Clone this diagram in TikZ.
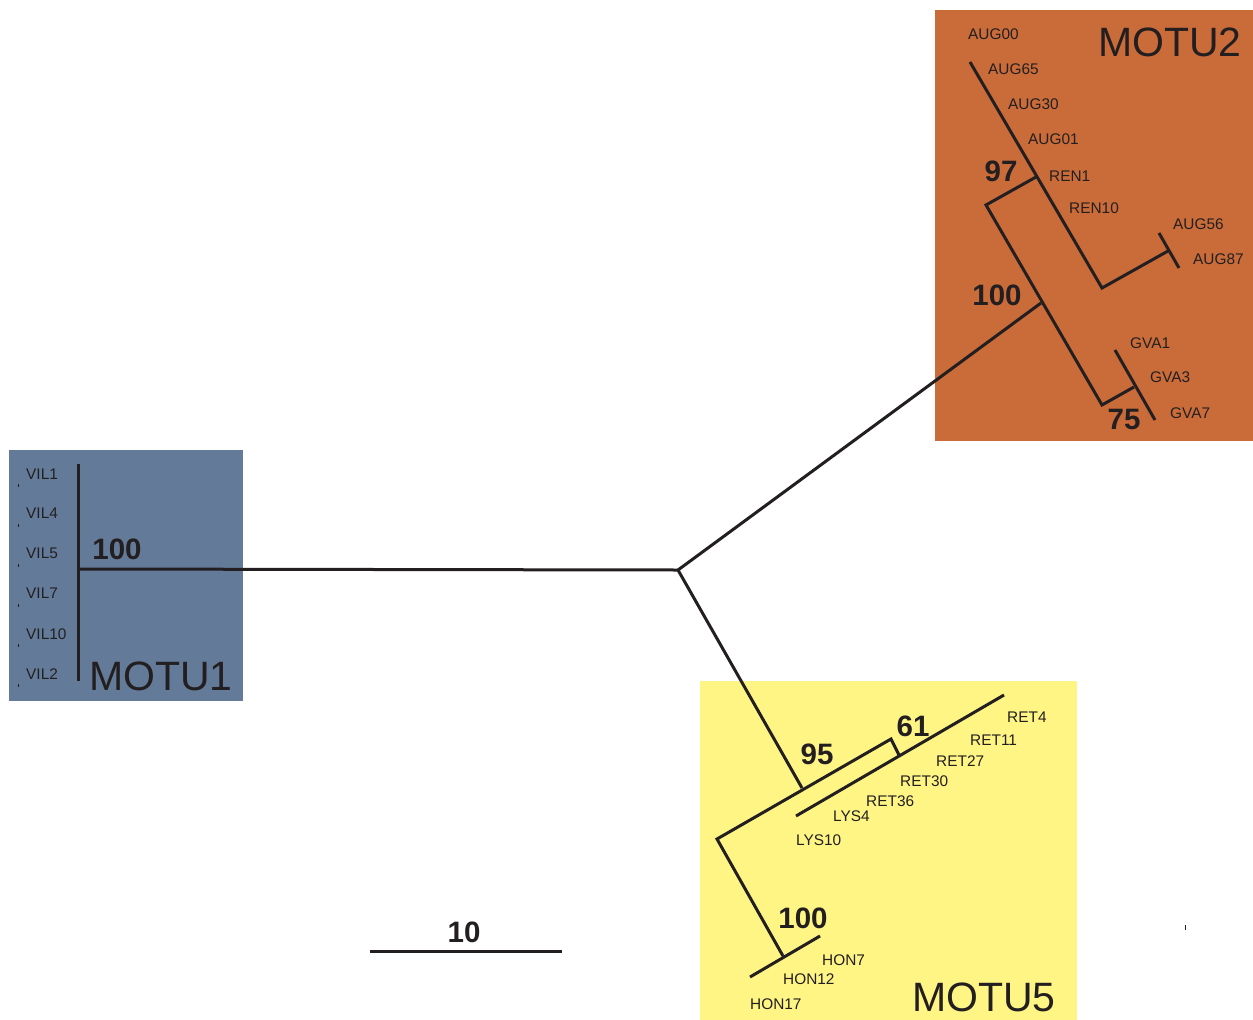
\documentclass[tikz,border=0pt]{standalone}
\usepackage{fontspec}
\setmainfont{Liberation Sans}
\definecolor{motuorange}{RGB}{201,108,57}
\definecolor{motublue}{RGB}{99,123,153}
\definecolor{motuyellow}{RGB}{255,245,133}
\definecolor{ink}{RGB}{35,31,32}
\tikzset{
  branch/.style={draw=ink, line width=3pt, line cap=butt, line join=miter},
  leaf/.style={anchor=west, inner sep=0pt, text=ink, font=\fontsize{15.4}{15.4}\selectfont},
  boot/.style={inner sep=0pt, text=ink, font=\fontsize{29.5}{29.5}\selectfont\bfseries},
  motu/.style={inner sep=0pt, text=ink, font=\fontsize{41}{41}\selectfont},
  tick/.style={draw=ink, line width=1pt}
}
\begin{document}
\begin{tikzpicture}[x=1pt,y=-1pt]
\useasboundingbox (0,0) rectangle (1253,1020);
\fill[white] (0,0) rectangle (1253,1020);
% cluster boxes
\fill[motuorange] (935,10) rectangle (1253,441);
\fill[motublue] (9,450) rectangle (243,701);
\fill[motuyellow] (700,681) rectangle (1077,1020);

% tree vertices
\coordinate (C) at (678,570);
% MOTU1
\coordinate (m1) at (78,569);
\coordinate (m1t) at (78,464);
\coordinate (m1b) at (78,681);
% MOTU2
\coordinate (m2) at (1041,303);
\coordinate (a0) at (970,62);
\coordinate (n97) at (1036,177);
\coordinate (a1) at (1102,288);
\coordinate (a2) at (1168,251);
\coordinate (a3t) at (1159,233);
\coordinate (a3b) at (1179,268);
\coordinate (g0) at (986,205);
\coordinate (g1) at (1102,405);
\coordinate (g2) at (1134,387);
\coordinate (g3t) at (1115,350);
\coordinate (g3b) at (1155,420);
% MOTU5
\coordinate (n95) at (802,788);
\coordinate (r0) at (717,839);
\coordinate (r1) at (891,739);
\coordinate (r2) at (899,755);
\coordinate (r3s) at (796,816);
\coordinate (r3e) at (1004,695);
\coordinate (h1) at (783,956);
\coordinate (h2s) at (750,977);
\coordinate (h2e) at (820,936);
% scale bar
\coordinate (s1) at (370,951);
\coordinate (s2) at (562,951);

% branches
\draw[branch] (m1t) -- (m1b);
\draw[branch] (m1) -- (C);
\draw[branch] (C) -- (m2);
\draw[branch] (a0) -- (a1) -- (a2);
\draw[branch] (a3t) -- (a3b);
\draw[branch] (n97) -- (g0) -- (g1) -- (g2);
\draw[branch] (g3t) -- (g3b);
\draw[branch] (C) -- (n95);
\draw[branch] (h1) -- (r0) -- (r1) -- (r2);
\draw[branch] (r3s) -- (r3e);
\draw[branch] (h2s) -- (h2e);
\draw[branch] (s1) -- (s2);

% tiny leaf ticks
\foreach \yy [count=\i] in {485,525,565,605,645,685}{
  \coordinate (vt\i) at (18,\yy);
  \draw[tick] ([yshift=-1.5pt]vt\i) -- ([yshift=1.5pt]vt\i);
}
\coordinate (lone) at (1185,927);
\draw[tick] ([yshift=-2.5pt]lone) -- ([yshift=2.5pt]lone);

% MOTU2 labels
\node[leaf] (lAUG00) at (968,34) {AUG00};
\node[leaf] (lAUG65) at (988,69) {AUG65};
\node[leaf] (lAUG30) at (1008,104) {AUG30};
\node[leaf] (lAUG01) at (1028,139) {AUG01};
\node[leaf] (lREN1) at (1049,176) {REN1};
\node[leaf] (lREN10) at (1069,208) {REN10};
\node[leaf] (lAUG56) at (1173,224) {AUG56};
\node[leaf] (lAUG87) at (1193,259) {AUG87};
\node[leaf] (lGVA1) at (1130,343) {GVA1};
\node[leaf] (lGVA3) at (1150,377) {GVA3};
\node[leaf] (lGVA7) at (1170,413) {GVA7};
\node[boot] (b97) at (1001,171) {97};
\node[boot] (b100a) at (997,295) {100};
\node[boot] (b75) at (1124,419) {75};
\node[motu] (tMOTU2) at (1170,42) {MOTU2};

% MOTU1 labels
\node[leaf] (lVIL1) at (26,474) {VIL1};
\node[leaf] (lVIL4) at (26,513) {VIL4};
\node[leaf] (lVIL5) at (26,553) {VIL5};
\node[leaf] (lVIL7) at (26,593) {VIL7};
\node[leaf] (lVIL10) at (26,634) {VIL10};
\node[leaf] (lVIL2) at (26,674) {VIL2};
\node[boot] (b100b) at (117,549) {100};
\node[motu] (tMOTU1) at (161,676) {MOTU1};

% MOTU5 labels
\node[leaf] (lRET4) at (1007,717) {RET4};
\node[leaf] (lRET11) at (970,740) {RET11};
\node[leaf] (lRET27) at (936,761) {RET27};
\node[leaf] (lRET30) at (900,781) {RET30};
\node[leaf] (lRET36) at (866,801) {RET36};
\node[leaf] (lLYS4) at (833,816) {LYS4};
\node[leaf] (lLYS10) at (796,840) {LYS10};
\node[leaf] (lHON7) at (822,960) {HON7};
\node[leaf] (lHON12) at (783,979) {HON12};
\node[leaf] (lHON17) at (750,1004) {HON17};
\node[boot] (b95) at (817,754) {95};
\node[boot] (b61) at (913,726) {61};
\node[boot] (b100c) at (803,918) {100};
\node[motu] (tMOTU5) at (984,997) {MOTU5};

% scale label
\node[boot] (scale) at (464,932) {10};
\end{tikzpicture}
\end{document}
